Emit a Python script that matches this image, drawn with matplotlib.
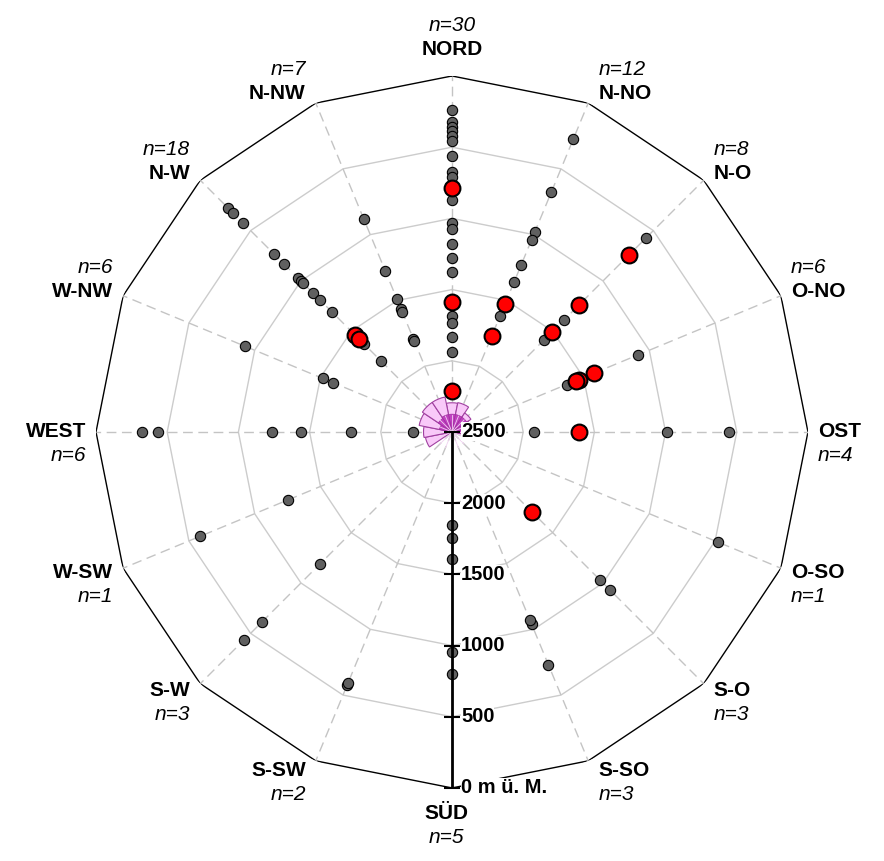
import numpy as np
import matplotlib.pyplot as plt

plt.rcParams['font.family'] = ['Liberation Sans', 'DejaVu Sans']

# 16 compass directions, clockwise from north
directions = ['NORD', 'N-NO', 'N-O', 'O-NO', 'OST', 'O-SO', 'S-O', 'S-SO',
              'SÜD', 'S-SW', 'S-W', 'W-SW', 'WEST', 'W-NW', 'N-W', 'N-NW']
n_counts = [30, 12, 8, 6, 4, 1, 3, 3, 5, 2, 3, 1, 6, 6, 18, 7]

# elevations (m ü. M.) of the grey sites per direction
grey_elev = [
    [239, 323, 358, 386, 421, 457, 562, 674, 709, 871, 1032, 1075, 1180,
     1278, 1376, 1685, 1735, 1833, 1938],
    [274, 674, 983, 1039, 1229, 1362, 1622],
    [576, 760, 1391, 1587],
    [1089, 1629],
    [555, 990, 1924],
    [478],
    [934, 1032],
    [730, 1039, 1068],
    [801, 955, 1608, 1756, 1847],
    [576, 590],
    [436, 611, 1187],
    [583, 1250],
    [323, 436, 1236, 1440, 1791, 2226],
    [927, 1517, 1594],
    [274, 323, 421, 730, 836, 969, 997, 1025, 1124, 1187, 1306, 1629, 1791],
    [878, 1278, 1489, 1566, 1587, 1791, 1812],
]
# elevations of the red sites per direction
red_elev = [
    [787, 1587, 2212],
    [1531, 1770],
    [744, 1236, 1510],
    [1419, 1538, 1559],
    [1608],
    [], [1707], [], [], [], [], [], [], [],
    [1538, 1580],
    [],
]

# small rose in the centre (depth from centre in m)
rose_light = [205, 210, 160, 135, 90, 0, 0, 0, 0, 0, 0, 190, 200, 235, 250, 250]
rose_dark = [125, 125, 125, 115, 80, 0, 0, 0, 0, 0, 0, 0, 0, 90, 115, 125]

r_ticks = [2500, 2000, 1500, 1000, 500, 0]
r_ticklabels = ['2500', '2000', '1500', '1000', '500', '0 m ü. M.']
grid_levels = [2000, 1500, 1000, 500]

top = 2500
theta = np.arange(16) * 2 * np.pi / 16

fig = plt.figure(figsize=(8.84, 8.61), dpi=100)
ax = fig.add_axes([0.1086, 0.0848, 0.8054, 0.827], projection='polar')
ax.set_theta_zero_location('N')
ax.set_theta_direction(-1)
ax.set_ylim(top, 0)
ax.grid(False)
ax.set_xticks([])
ax.set_yticks([])
ax.spines['polar'].set_visible(False)

# polygon grid (straight edges between spokes)
tt = np.linspace(0, 2 * np.pi, 16 * 40 + 1)
psi = np.mod(tt, np.pi / 8) - np.pi / 16
for lev in grid_levels:
    d = (top - lev) * np.cos(np.pi / 16) / np.cos(psi)
    ax.plot(tt, top - d, color='#cccccc', lw=1, zorder=1)
d = top * np.cos(np.pi / 16) / np.cos(psi)
ax.plot(tt, top - d, color='black', lw=1, zorder=1)

# spokes
for th in theta:
    ax.plot([th, th], [top, 0], color='#c4c4c4', lw=1, ls=(0, (7, 4)), zorder=1.5)

# rose in centre
w = 2 * np.pi / 16
ax.bar(theta, -np.array(rose_light), bottom=top, width=w, color='#f9c9f9',
       edgecolor='#a040a0', lw=0.8, zorder=2)
ax.bar(theta, -np.array(rose_dark), bottom=top, width=w, color='#c040c0',
       edgecolor='#a030a0', lw=0.5, zorder=2.1)
for th in theta:
    ax.plot([th, th], [top, top - 120], color='#f0d0f0', lw=0.6, zorder=2.2)

# sites
for i, th in enumerate(theta):
    g = grey_elev[i]
    if g:
        ax.scatter(np.full(len(g), th), g, s=55, c='#606060', edgecolors='black',
                   linewidths=0.8, zorder=3)
for i, th in enumerate(theta):
    r = red_elev[i]
    if r:
        ax.scatter(np.full(len(r), th), r, s=130, c='#ff0000', edgecolors='black',
                   linewidths=1.5, zorder=4)

# radial axis towards south
ax.plot([np.pi, np.pi], [top, 0], color='black', lw=2, zorder=5)
ax.plot(np.full(len(r_ticks), np.pi), r_ticks, ls='none', marker='_', ms=11,
        mew=1.5, color='black', zorder=5, clip_on=False)
for t, lab in zip(r_ticks, r_ticklabels):
    ax.annotate(lab, xy=(np.pi, t), xytext=(9, 0), textcoords='offset pixels',
                ha='left', va='center', fontsize=14.5, fontweight='bold', zorder=6,
                annotation_clip=False,
                bbox=dict(boxstyle='square,pad=0.0', fc='white', ec='none'))

# direction labels
for i, th in enumerate(theta):
    s, c = np.sin(th), np.cos(th)
    if abs(s) < 0.1:
        ha, dx, dy = 'center', -6 * (c < 0), 26 * c
    else:
        ha = 'left' if s > 0 else 'right'
        dx, dy = 10 * np.sign(s), 10 * c
    off = 24 if c > 0.1 else -24
    ax.annotate(directions[i], xy=(th, 0), xytext=(dx, dy),
                textcoords='offset pixels', ha=ha, va='center', fontsize=15,
                fontweight='bold', annotation_clip=False)
    ax.annotate(f'n={n_counts[i]}', xy=(th, 0), xytext=(dx, dy + off),
                textcoords='offset pixels', ha=ha, va='center', fontsize=15,
                fontstyle='italic', annotation_clip=False)

fig.savefig('out.png', dpi=100)
